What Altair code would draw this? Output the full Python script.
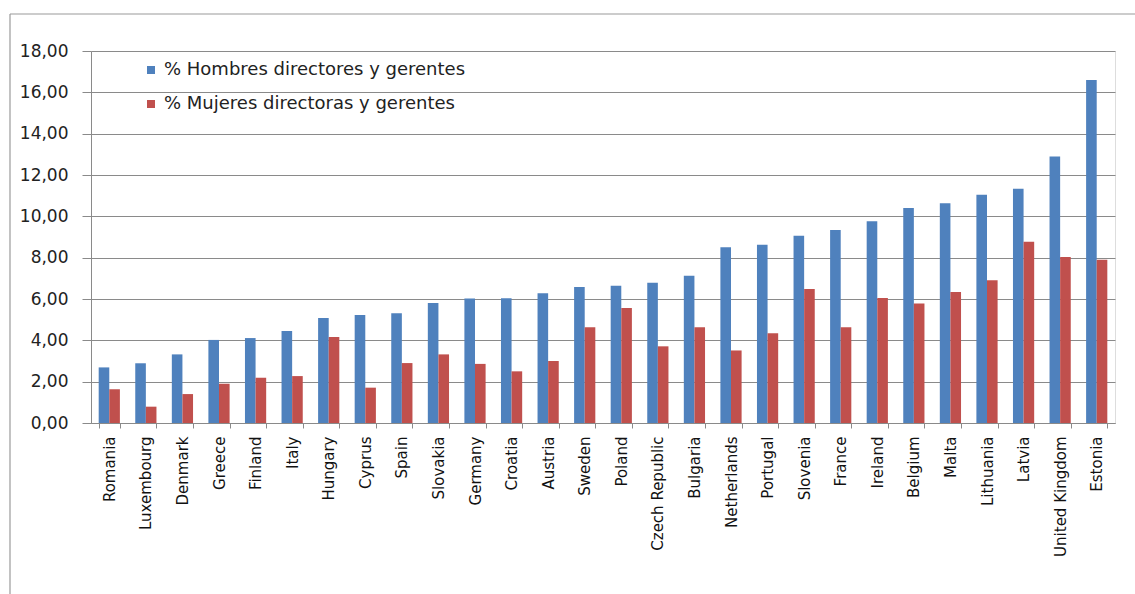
import altair as alt
import pandas as pd

countries = ["Romania", "Luxembourg", "Denmark", "Greece", "Finland", "Italy", "Hungary",
             "Cyprus", "Spain", "Slovakia", "Germany", "Croatia", "Austria", "Sweden",
             "Poland", "Czech Republic", "Bulgaria", "Netherlands", "Portugal", "Slovenia",
             "France", "Ireland", "Belgium", "Malta", "Lithuania", "Latvia",
             "United Kingdom", "Estonia"]
hombres = [2.69, 2.89, 3.32, 4.02, 4.11, 4.45, 5.08, 5.23, 5.31, 5.81, 6.02, 6.04, 6.28,
           6.58, 6.64, 6.79, 7.13, 8.50, 8.63, 9.06, 9.34, 9.76, 10.40, 10.63, 11.05,
           11.34, 12.90, 16.60]
mujeres = [1.63, 0.79, 1.40, 1.90, 2.19, 2.27, 4.16, 1.71, 2.90, 3.32, 2.86, 2.50, 3.00,
           4.63, 5.56, 3.71, 4.63, 3.51, 4.34, 6.48, 4.63, 6.05, 5.78, 6.34, 6.91,
           8.77, 8.03, 7.90]
series = ["% Hombres directores y gerentes", "% Mujeres directoras y gerentes"]
colors = ["#4F81BD", "#C0504D"]
y_ticks = [0, 2, 4, 6, 8, 10, 12, 14, 16, 18]

rows = []
for c, h, m in zip(countries, hombres, mujeres):
    rows.append({"pais": c, "serie": series[0], "valor": h})
    rows.append({"pais": c, "serie": series[1], "valor": m})
df = pd.DataFrame(rows)

W, H = 1024, 372
grid_col = "#8a8a8a"

bars = alt.Chart(df).mark_bar().encode(
    x=alt.X("pais:N", sort=countries, title=None,
            scale=alt.Scale(paddingInner=0.42, paddingOuter=0.21),
            axis=alt.Axis(labelAngle=-90, labelFont="DejaVu Sans", labelFontSize=15,
                          labelColor="#111", tickBand="extent", tickSize=5,
                          tickColor=grid_col, domainColor=grid_col, labelPadding=8,
                          grid=False)),
    xOffset=alt.XOffset("serie:N", sort=series),
    y=alt.Y("valor:Q", title=None,
            scale=alt.Scale(domain=[0, 18], nice=False),
            axis=alt.Axis(values=y_ticks, labelExpr="replace(format(datum.value, '.2f'), '.', ',')",
                          labelFont="DejaVu Sans", labelFontSize=17, labelColor="#222",
                          tickSize=9, tickColor=grid_col, domainColor=grid_col,
                          gridColor=grid_col, gridWidth=1, labelPadding=14)),
    color=alt.Color("serie:N", sort=series,
                    scale=alt.Scale(domain=series, range=colors),
                    legend=alt.Legend(title=None, orient="none", legendX=51, legendY=10,
                                      symbolType="square", symbolSize=64,
                                      symbolStrokeWidth=0, labelFont="DejaVu Sans",
                                      labelFontSize=18, labelColor="#222",
                                      rowPadding=16, labelOffset=4, labelLimit=500)),
)

frame_data = pd.DataFrame({"k": [0]})
frame_left = alt.Chart(frame_data).mark_rule(color="#9a9a9a", strokeWidth=1.2).encode(
    x=alt.value(-81), y=alt.value(-37), y2=alt.value(H + 200))
frame_top = alt.Chart(frame_data).mark_rule(color="#9a9a9a", strokeWidth=1.2).encode(
    x=alt.value(-81), x2=alt.value(W + 60), y=alt.value(-37))

chart = alt.layer(bars, frame_left, frame_top).properties(
    width=W, height=H,
    autosize=alt.AutoSizeParams(type="none"),
    padding={"left": 91, "top": 51, "right": 20, "bottom": 171},
).configure_view(stroke=None).configure(background="white")

chart.save("out.html", embed_options={"renderer": "svg", "actions": False})
